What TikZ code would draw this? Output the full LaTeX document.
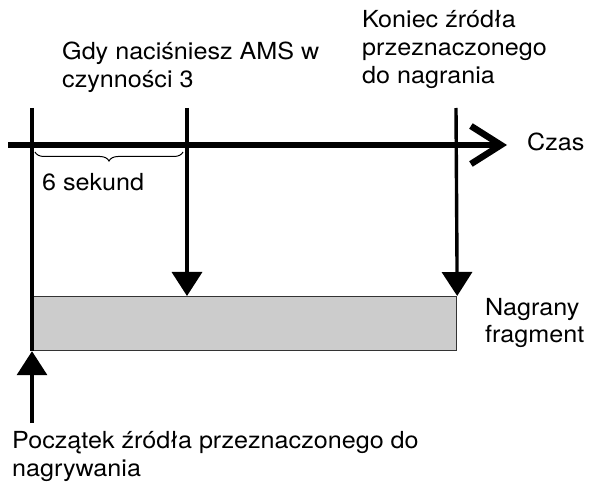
\documentclass[tikz,border=0pt]{standalone}
\usepackage{fontspec}
\setmainfont{TeX Gyre Heros}[FakeStretch=1.07]
\usetikzlibrary{arrows.meta,decorations.pathreplacing}

\begin{document}
\begin{tikzpicture}[x=1pt,y=-1pt,
    every node/.style = {inner sep=0pt, align=left, anchor=base west,
      font=\fontsize{23.5}{28}\selectfont},
    marker/.style = {line width=3.4pt},
    pointer/.style = {line width=3.4pt, -{Triangle[length=24pt,width=30pt]}}]
  \useasboundingbox (0,0) rectangle (590,484);
  % time axis
  \coordinate (axisstart) at (8,145);
  \node (czas) at (527,151) {Czas};
  \draw[line width=6.5pt, -{Straight Barb[length=30pt,width=38pt]}]
    (axisstart) -- (507,145);
  % recorded part
  \node[draw=black!80, line width=1.2pt, fill=black!20, anchor=north west,
    minimum width=424pt, minimum height=54pt] (part) at (32,296) {};
  \node (nagrany) at (485,343) {Nagrany\\fragment};
  % markers
  \coordinate (t0) at (32,108);
  \coordinate (t1) at (187,108);
  \coordinate (t2) at (456,108);
  \draw[marker] (t0) -- (part.south west);
  \draw[pointer] (t1) -- (t1 |- part.north);
  \draw[pointer] (t2) -- (part.north east);
  \coordinate (t0low) at (32,423);
  \draw[pointer] (t0low) -- (part.south west);
  % texts
  \node (ams) at (62,88) {Gdy naciśniesz AMS w\\czynności 3};
  \node (koniec) at (362,84) {Koniec źródła\\przeznaczonego\\do nagrania};
  \node (poczatek) at (12,476) {Początek źródła przeznaczonego do\\nagrywania};
  % six seconds
  \draw[line width=1pt, decorate, decoration={brace, amplitude=9pt, mirror}]
    (35,152) -- (183,152);
  \node (sek) at (42,191) {6 sekund};
\end{tikzpicture}
\end{document}
